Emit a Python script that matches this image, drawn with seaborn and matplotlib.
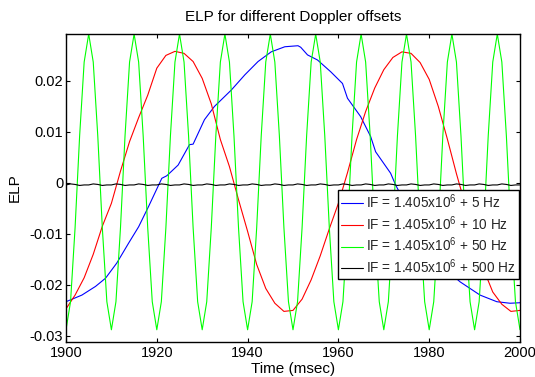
import numpy as np
import pandas as pd
import matplotlib
matplotlib.use("Agg")
import matplotlib.pyplot as plt
import seaborn as sns

# ---- data -------------------------------------------------------------
# 5 Hz offset (sample times in ms and ELP values)
blue_t = [1900.0, 1903.5, 1906.5, 1908.7, 1911.2, 1913.8, 1916.0, 1918.2,
          1921.1, 1922.2, 1924.7, 1927.2, 1928.0, 1930.5, 1932.7, 1936.4,
          1939.4, 1942.3, 1945.2, 1948.2, 1951.1, 1951.7, 1953.2, 1955.4,
          1958.3, 1960.9, 1962.0, 1964.9, 1967.1, 1968.2, 1971.5, 1972.6,
          1975.0, 1978.0, 1981.0, 1984.0, 1986.8, 1991.2, 1994.9, 1997.8,
          2000.0]
blue_v = [-0.0233, -0.0220, -0.0203, -0.0187, -0.0157, -0.0118, -0.0086, -0.0046,
          0.0009, 0.0014, 0.0035, 0.0075, 0.0076, 0.0124, 0.0150, 0.0182,
          0.0212, 0.0238, 0.0257, 0.0267, 0.0269, 0.0266, 0.0251, 0.0241,
          0.0218, 0.0195, 0.0166, 0.0130, 0.0091, 0.0061, 0.0019, -0.0004,
          -0.0045, -0.0095, -0.0140, -0.0172, -0.0194, -0.0220, -0.0233, -0.0236,
          -0.0235]

# 10 Hz offset
red_t = [1900, 1902, 1904, 1906, 1908, 1910, 1912, 1914, 1916, 1918,
         1920, 1922, 1924, 1926, 1928, 1930, 1932, 1934, 1936, 1938,
         1940, 1942, 1944, 1946, 1948, 1950, 1952, 1954, 1956, 1958,
         1960, 1962, 1964, 1966, 1968, 1970, 1972, 1974, 1976, 1978,
         1980, 1982, 1984, 1986, 1988, 1990, 1992, 1994, 1996, 1998,
         2000]
red_v = [-0.0247, -0.0220, -0.0186, -0.0140, -0.0085, -0.0040, 0.0023, 0.0081, 0.0128, 0.0172,
         0.0225, 0.0250, 0.0258, 0.0254, 0.0238, 0.0205, 0.0155, 0.0085, 0.0032, -0.0033,
         -0.0095, -0.0160, -0.0207, -0.0236, -0.0252, -0.0250, -0.0228, -0.0190, -0.0143, -0.0090,
         -0.0040, 0.0020, 0.0085, 0.0140, 0.0186, 0.0222, 0.0246, 0.0257, 0.0254, 0.0236,
         0.0203, 0.0150, 0.0086, 0.0018, -0.0045, -0.0110, -0.0170, -0.0214, -0.0238, -0.0252,
         -0.0250]

# 50 Hz and 500 Hz offsets, one sample per ms from 1900 to 2000
grid_t = np.arange(1900, 2001)
green_v = [
    -0.0288, -0.0233, -0.0088, 0.0092, 0.0237, 0.0292, 0.0237, 0.0092, -0.0088, -0.0233,
    -0.0288, -0.0233, -0.0088, 0.0092, 0.0237, 0.0292, 0.0237, 0.0092, -0.0088, -0.0233,
    -0.0288, -0.0233, -0.0088, 0.0092, 0.0237, 0.0292, 0.0237, 0.0092, -0.0088, -0.0233,
    -0.0288, -0.0233, -0.0088, 0.0092, 0.0237, 0.0292, 0.0237, 0.0092, -0.0088, -0.0233,
    -0.0288, -0.0233, -0.0088, 0.0092, 0.0237, 0.0292, 0.0237, 0.0092, -0.0088, -0.0233,
    -0.0288, -0.0233, -0.0088, 0.0092, 0.0237, 0.0292, 0.0237, 0.0092, -0.0088, -0.0233,
    -0.0288, -0.0233, -0.0088, 0.0092, 0.0237, 0.0292, 0.0237, 0.0092, -0.0088, -0.0233,
    -0.0288, -0.0233, -0.0088, 0.0092, 0.0237, 0.0292, 0.0237, 0.0092, -0.0088, -0.0233,
    -0.0288, -0.0233, -0.0088, 0.0092, 0.0237, 0.0292, 0.0237, 0.0092, -0.0088, -0.0233,
    -0.0288, -0.0233, -0.0088, 0.0092, 0.0237, 0.0292, 0.0237, 0.0092, -0.0088, -0.0233,
    -0.0288]
black_v = [
    -0.0004, -0.0002, -0.0003, -0.0005, -0.0004, -0.0004, -0.0002, -0.0003, -0.0005, -0.0004,
    -0.0004, -0.0002, -0.0003, -0.0005, -0.0004, -0.0004, -0.0002, -0.0003, -0.0005, -0.0004,
    -0.0004, -0.0002, -0.0003, -0.0005, -0.0004, -0.0004, -0.0002, -0.0003, -0.0005, -0.0004,
    -0.0004, -0.0002, -0.0003, -0.0005, -0.0004, -0.0004, -0.0002, -0.0003, -0.0005, -0.0004,
    -0.0004, -0.0002, -0.0003, -0.0005, -0.0004, -0.0004, -0.0002, -0.0003, -0.0005, -0.0004,
    -0.0004, -0.0002, -0.0003, -0.0005, -0.0004, -0.0004, -0.0002, -0.0003, -0.0005, -0.0004,
    -0.0004, -0.0002, -0.0003, -0.0005, -0.0004, -0.0004, -0.0002, -0.0003, -0.0005, -0.0004,
    -0.0004, -0.0002, -0.0003, -0.0005, -0.0004, -0.0004, -0.0002, -0.0003, -0.0005, -0.0004,
    -0.0004, -0.0002, -0.0003, -0.0005, -0.0004, -0.0004, -0.0002, -0.0003, -0.0005, -0.0004,
    -0.0004, -0.0002, -0.0003, -0.0005, -0.0004, -0.0004, -0.0002, -0.0003, -0.0005, -0.0004,
    -0.0004]

offsets = ["5", "10", "50", "500"]
colors = ["#0000ff", "#ff0000", "#00ff00", "#000000"]
labels = [f"IF = 1.405x10$^6$ + {d} Hz" for d in offsets]

xticks = [1900, 1920, 1940, 1960, 1980, 2000]
yticks = [-0.03, -0.02, -0.01, 0.0, 0.01, 0.02]
ytick_labels = ["-0.03", "-0.02", "-0.01", "0", "0.01", "0.02"]

# ---- long-form table --------------------------------------------------
frames = [
    pd.DataFrame({"t": blue_t, "elp": blue_v, "series": labels[0]}),
    pd.DataFrame({"t": red_t, "elp": red_v, "series": labels[1]}),
    pd.DataFrame({"t": grid_t, "elp": green_v, "series": labels[2]}),
    pd.DataFrame({"t": grid_t, "elp": black_v, "series": labels[3]}),
]
df = pd.concat(frames, ignore_index=True)

# ---- style ------------------------------------------------------------
sns.set_theme(style="white")
plt.rcParams["font.family"] = ["Liberation Sans", "DejaVu Sans"]
plt.rcParams["mathtext.fontset"] = "custom"
plt.rcParams["mathtext.rm"] = "Liberation Sans"
plt.rcParams["mathtext.it"] = "Liberation Sans:italic"
plt.rcParams["mathtext.bf"] = "Liberation Sans:bold"
plt.rcParams["axes.unicode_minus"] = False

fig = plt.figure(figsize=(5.35, 3.77), dpi=100)
fig.patch.set_facecolor("white")
ax = fig.add_axes([66 / 535, 35 / 377, 454 / 535, 308 / 377])

sns.lineplot(data=df, x="t", y="elp", hue="series", hue_order=labels,
             palette=colors, estimator=None, sort=False, linewidth=0.8,
             ax=ax, legend=False)

ax.set_xlim(1900, 2000)
ax.set_ylim(-0.0312, 0.0292)
ax.set_xticks(xticks)
ax.set_xticklabels([str(x) for x in xticks])
ax.set_yticks(yticks)
ax.set_yticklabels(ytick_labels)

ax.tick_params(direction="in", length=3, width=0.8, colors="black",
               labelsize=10.5, top=True, right=True, bottom=True, left=True)
ax.tick_params(axis="x", pad=3)
ax.tick_params(axis="y", pad=2)
for s in ax.spines.values():
    s.set_color("black")
    s.set_linewidth(1.0)
    s.set_visible(True)

ax.set_title("ELP for different Doppler offsets", fontsize=11, color="black", pad=9)
ax.set_xlabel("Time (msec)", fontsize=11, color="black", labelpad=1)
ax.set_ylabel("ELP", fontsize=11, color="black", labelpad=6)

handles = [plt.Line2D([], [], color=c, linewidth=0.8) for c in colors]
leg = ax.legend(handles, labels, loc="upper left",
                bbox_to_anchor=(0.600, 0.494), borderaxespad=0,
                fontsize=9.8, frameon=True, fancybox=False, framealpha=1,
                edgecolor="black", handlelength=1.6, handletextpad=0.25,
                labelspacing=0.22, borderpad=0.2)
leg.get_frame().set_linewidth(1.0)

fig.savefig("out.png", dpi=100, facecolor="white")
